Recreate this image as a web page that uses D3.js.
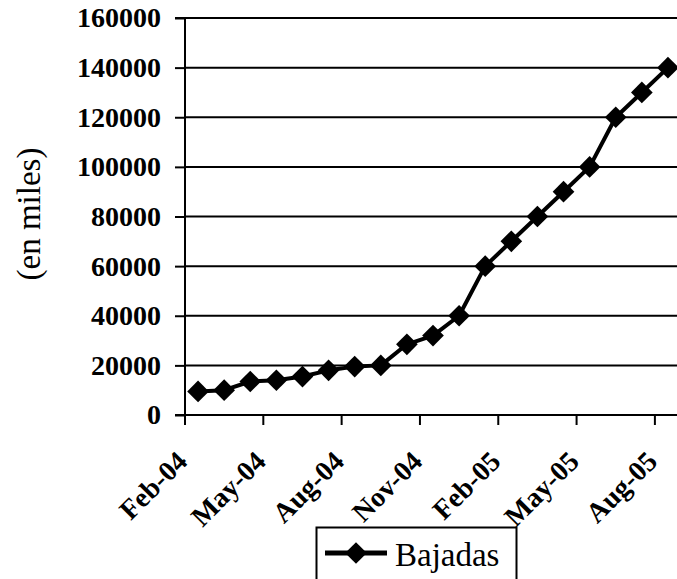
<!DOCTYPE html>
<html>
<head>
<meta charset="utf-8">
<script src="https://cdn.jsdelivr.net/npm/d3@7"></script>
<style>
  html, body { margin: 0; padding: 0; background: #fff; }
  svg { display: block; }
  svg text { font-family: "Liberation Serif", Tinos, "Times New Roman", Times, "DejaVu Serif", serif; }
</style>
</head>
<body>
<svg id="chart" width="677" height="579"></svg>
<script>
const months = ["Feb-04","Mar-04","Apr-04","May-04","Jun-04","Jul-04","Aug-04","Sep-04","Oct-04","Nov-04","Dec-04","Jan-05","Feb-05","Mar-05","Apr-05","May-05","Jun-05","Jul-05","Aug-05"];
const bajadas = [9500,10000,13500,14000,15500,18000,19500,20000,28500,32000,40000,60000,70000,80000,90000,100000,120000,130000,140000];
const xTickLabels = ["Feb-04","May-04","Aug-04","Nov-04","Feb-05","May-05","Aug-05"];
const yTicks = [0,20000,40000,60000,80000,100000,120000,140000,160000];
const seriesName = "Bajadas";
const yTitle = "(en miles)";

const svg = d3.select("#chart");
const pLeft = 185, pRight = 681, pTop = 18, pBottom = 415;

const x = d3.scaleBand().domain(months).range([pLeft, pRight]).padding(0);
const y = d3.scaleLinear().domain([0, 160000]).range([pBottom, pTop]);

// gridlines
svg.append("g").selectAll("line").data(yTicks.filter(d => d > 0)).join("line")
  .attr("x1", pLeft).attr("x2", pRight)
  .attr("y1", d => y(d)).attr("y2", d => y(d))
  .attr("stroke", "#000").attr("stroke-width", 2);

// y axis
const yAxis = d3.axisLeft(y).tickValues(yTicks).tickSize(10).tickPadding(14).tickFormat(d3.format("d"));
const gy = svg.append("g").attr("transform", `translate(${pLeft},0)`).call(yAxis);
gy.attr("font-family", null).attr("font-size", null);
gy.select(".domain").attr("stroke", "#000").attr("stroke-width", 2).attr("d", `M-10,${pTop}H0V${pBottom}H-10`);
gy.selectAll(".tick line").attr("stroke", "#000").attr("stroke-width", 2);
gy.selectAll(".tick text").style("font-size", "28px").style("font-weight", "bold").attr("fill", "#000");

// x axis
svg.append("line").attr("x1", pLeft).attr("x2", pRight).attr("y1", pBottom).attr("y2", pBottom)
  .attr("stroke", "#000").attr("stroke-width", 2);
const gx = svg.append("g");
gx.selectAll("line").data(xTickLabels).join("line")
  .attr("x1", d => x(d)).attr("x2", d => x(d))
  .attr("y1", pBottom).attr("y2", pBottom + 10)
  .attr("stroke", "#000").attr("stroke-width", 2);

// legend (drawn before labels)
const lg = svg.append("g");
lg.append("rect").attr("x", 316.5).attr("y", 527.5).attr("width", 200).attr("height", 70)
  .attr("fill", "none").attr("stroke", "#000").attr("stroke-width", 2);
lg.append("line").attr("x1", 325).attr("x2", 387).attr("y1", 553).attr("y2", 553)
  .attr("stroke", "#000").attr("stroke-width", 5);
lg.append("path").attr("d", d3.symbol(d3.symbolDiamond2, 300)())
  .attr("transform", "translate(356,553)").attr("fill", "#000");
lg.append("text").attr("x", 395).attr("y", 566).text(seriesName)
  .style("font-size", "33px").attr("fill", "#000");

gx.selectAll("text").data(xTickLabels).join("text")
  .attr("transform", d => `translate(${x(d) + 4},${463}) rotate(-45)`)
  .attr("text-anchor", "end")
  .style("font-size", "28px").style("font-weight", "bold").attr("fill", "#000")
  .text(d => d);

// y title
svg.append("text").attr("transform", `translate(40,214) rotate(-90)`)
  .attr("text-anchor", "middle").style("font-size", "33px").attr("fill", "#000")
  .text(yTitle);

// line
const cx = d => x(d) + x.bandwidth() / 2;
const line = d3.line().x((d, i) => cx(months[i])).y(d => y(d));
svg.append("path").datum(bajadas).attr("d", line).attr("fill", "none")
  .attr("stroke", "#000").attr("stroke-width", 4).attr("stroke-linejoin", "round");

svg.append("g").selectAll("path").data(bajadas).join("path")
  .attr("d", d3.symbol(d3.symbolDiamond2, 300)())
  .attr("transform", (d, i) => `translate(${cx(months[i])},${y(d)})`)
  .attr("fill", "#000");
</script>
</body>
</html>
